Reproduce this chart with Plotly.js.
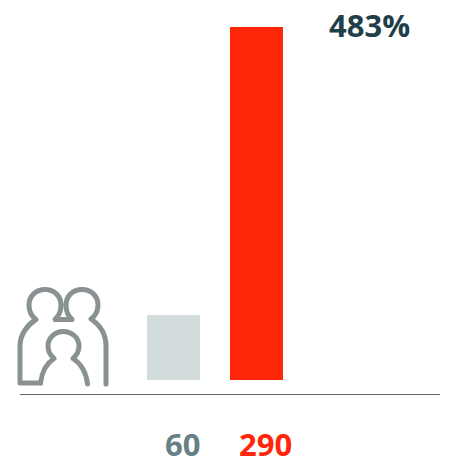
<!DOCTYPE html>
<html>
<head>
<meta charset="utf-8">
<script src="https://cdn.plot.ly/plotly-3.0.1.min.js"></script>
<style>html,body{margin:0;padding:0;background:#fff;overflow:hidden}</style>
</head>
<body>
<div id="chart" style="width:451px;height:466px"></div>
<script>
const categories = ["Before", "After"];
const barValues = [53.4, 290];
const barColors = ["#d3dcdc", "#ff2609"];
const labelTexts = ["60", "290"];
const labelColors = ["#668085", "#ff2609"];
const changeLabel = "483%";

const W = 451, H = 466, L = 20, R = 11, B = 72;
const iconPaths = [
  "M40.500 383 H20 V346 C20 335 27 325 36 319.500 C31 316 29 311 29 305 C29 296 36 289.500 45 289.500 C54 289.500 61 296 61 305 C61 310 59 316 55 319.500 H72 C68 316 66 310 66 305 C66 296 73 289.500 82 289.500 C91 289.500 98 296 98 305 C98 311 95 316 91 319 C100 325 106 334 106 346 V384",
  "M40.500 383 C42 371 47 363 54 358.500 C50 355 48 351 48 346 C48 338 55 331.500 63 331.500 C72 331.500 79 338 79 346 C79 351 77 355 73 358.500 C80 363 86 371 87.500 384"
];
const iconSvg = '<svg xmlns="http://www.w3.org/2000/svg" width="95" height="105" viewBox="15 285 95 105">' +
  iconPaths.map(d => '<path d="' + d + '" fill="none" stroke="#8a9192" stroke-width="5" stroke-linecap="round" stroke-linejoin="round"/>').join('') +
  '</svg>';

const font = "'Open Sans', sans-serif";
const annotations = categories.map((c, i) => ({
  x: i, xref: "x", y: (H - 444 - B) / (H - B), yref: "paper", xshift: 9,
  text: "<b>" + labelTexts[i] + "</b>", showarrow: false, xanchor: "center", yanchor: "middle",
  font: {family: font, size: 31, color: labelColors[i]}
}));
annotations.push({
  x: (369 - L) / (W - L - R), xref: "paper", y: (H - B - 25) / (H - B), yref: "paper",
  text: "<b>" + changeLabel + "</b>", showarrow: false, xanchor: "center", yanchor: "middle",
  font: {family: font, size: 31, color: "#1f3f4a"}
});

Plotly.newPlot("chart", [{
  type: "bar",
  x: categories,
  y: barValues,
  width: 53 / 83,
  marker: {color: barColors, line: {width: 0}},
  hoverinfo: "skip"
}], {
  width: W, height: H,
  margin: {l: L, r: R, t: 0, b: B, pad: 0},
  paper_bgcolor: "#fff", plot_bgcolor: "#fff",
  showlegend: false,
  xaxis: {type: "category", range: [-1.849, 3.211], showgrid: false, zeroline: false,
          showline: true, linecolor: "#5c6669", linewidth: 1, ticks: "", showticklabels: false, fixedrange: true},
  yaxis: {range: [-11.5, 312.2], visible: false, showgrid: false, zeroline: false, fixedrange: true},
  annotations: annotations,
  images: [{
    source: "data:image/svg+xml;utf8," + encodeURIComponent(iconSvg),
    xref: "paper", yref: "paper",
    x: (15 - L) / (W - L - R), y: (H - B - 285) / (H - B),
    sizex: 95 / (W - L - R), sizey: 105 / (H - B),
    xanchor: "left", yanchor: "top", sizing: "stretch", layer: "above"
  }]
}, {displayModeBar: false, staticPlot: true});
</script>
</body>
</html>
